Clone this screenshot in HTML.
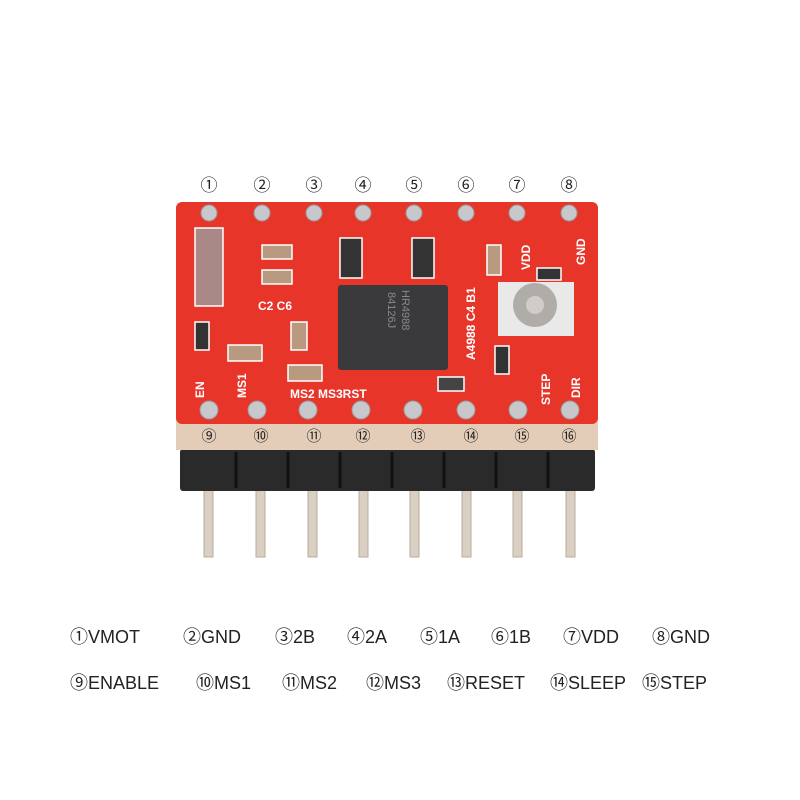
<!DOCTYPE html>
<html><head><style>
html,body{margin:0;padding:0;background:#fff;}
svg{display:block}
.t{font-family:"Liberation Sans","Noto Sans CJK JP",sans-serif;}
</style></head><body>
<svg width="800" height="800" viewBox="0 0 800 800" xmlns="http://www.w3.org/2000/svg">
<g class="t" font-size="17" fill="#222" text-anchor="middle">
<text x="209" y="191">①</text><text x="262" y="191">②</text><text x="314" y="191">③</text><text x="363" y="191">④</text>
<text x="414" y="191">⑤</text><text x="466" y="191">⑥</text><text x="517" y="191">⑦</text><text x="569" y="191">⑧</text>
</g>
<g fill="#d9cfc2" stroke="#b8ab9a" stroke-width="1">
<rect x="204" y="485" width="9" height="72"/><rect x="256" y="485" width="9" height="72"/><rect x="308" y="485" width="9" height="72"/><rect x="359" y="485" width="9" height="72"/>
<rect x="410" y="485" width="9" height="72"/><rect x="462" y="485" width="9" height="72"/><rect x="513" y="485" width="9" height="72"/><rect x="566" y="485" width="9" height="72"/>
</g>
<rect x="180" y="449" width="415" height="42" rx="3" fill="#2a2a2a"/>
<g stroke="#111" stroke-width="3">
<line x1="236" y1="452" x2="236" y2="488"/><line x1="288" y1="452" x2="288" y2="488"/><line x1="340" y1="452" x2="340" y2="488"/><line x1="392" y1="452" x2="392" y2="488"/>
<line x1="444" y1="452" x2="444" y2="488"/><line x1="496" y1="452" x2="496" y2="488"/><line x1="548" y1="452" x2="548" y2="488"/>
</g>
<rect x="176" y="418" width="422" height="32" fill="#e3cdb8"/>
<rect x="176" y="202" width="422" height="222" rx="6" fill="#e8352a"/>
<rect x="338" y="285" width="110" height="85" rx="3" fill="#3a3a3c"/>
<g class="t" fill="#888" font-size="11" transform="rotate(90 400 320)"><text x="370" y="318">HR4988</text><text x="372" y="332">84126J</text></g>
<g fill="#b89a80" stroke="#fff" stroke-width="1.5">
<rect x="195" y="228" width="28" height="78" fill="#a88"/>
<rect x="262" y="245" width="30" height="14"/><rect x="262" y="270" width="30" height="14"/>
<rect x="228" y="345" width="34" height="16"/><rect x="291" y="322" width="16" height="28"/>
<rect x="288" y="365" width="34" height="16"/><rect x="487" y="245" width="14" height="30"/>
</g>
<g fill="#333" stroke="#fff" stroke-width="1.5">
<rect x="340" y="238" width="22" height="40"/><rect x="412" y="238" width="22" height="40"/>
<rect x="195" y="322" width="14" height="28"/><rect x="495" y="346" width="14" height="28"/>
<rect x="438" y="377" width="26" height="14" fill="#444"/><rect x="537" y="268" width="24" height="12"/>
</g>
<rect x="498" y="282" width="76" height="54" fill="#e9e9ea"/>
<circle cx="535" cy="305" r="22" fill="#b0aca8"/><circle cx="535" cy="305" r="9" fill="#d0ccc8"/>
<g class="t" fill="#fff" font-size="12" font-weight="bold">
<text x="258" y="310">C2 C6</text><text x="290" y="398">MS2 MS3RST</text>
<text transform="translate(204 398) rotate(-90)">EN</text><text transform="translate(246 398) rotate(-90)">MS1</text>
<text transform="translate(550 405) rotate(-90)">STEP</text><text transform="translate(580 398) rotate(-90)">DIR</text>
<text transform="translate(475 360) rotate(-90)">A4988 C4 B1</text><text transform="translate(530 270) rotate(-90)">VDD</text>
<text transform="translate(585 265) rotate(-90)">GND</text>
</g>
<g fill="#c8c8cc" stroke="#999" stroke-width="1">
<circle cx="209" cy="213" r="8"/><circle cx="262" cy="213" r="8"/><circle cx="314" cy="213" r="8"/><circle cx="363" cy="213" r="8"/>
<circle cx="414" cy="213" r="8"/><circle cx="466" cy="213" r="8"/><circle cx="517" cy="213" r="8"/><circle cx="569" cy="213" r="8"/>
<circle cx="209" cy="410" r="9"/><circle cx="257" cy="410" r="9"/><circle cx="308" cy="410" r="9"/><circle cx="361" cy="410" r="9"/>
<circle cx="413" cy="410" r="9"/><circle cx="466" cy="410" r="9"/><circle cx="518" cy="410" r="9"/><circle cx="570" cy="410" r="9"/>
</g>
<g class="t" font-size="15" fill="#222" text-anchor="middle">
<text x="209" y="441">⑨</text><text x="261" y="441">⑩</text><text x="314" y="441">⑪</text><text x="363" y="441">⑫</text>
<text x="418" y="441">⑬</text><text x="471" y="441">⑭</text><text x="522" y="441">⑮</text><text x="569" y="441">⑯</text>
</g>
<g class="t" font-size="18" fill="#222">
<text x="70" y="643">①VMOT</text><text x="183" y="643">②GND</text><text x="275" y="643">③2B</text><text x="347" y="643">④2A</text>
<text x="420" y="643">⑤1A</text><text x="491" y="643">⑥1B</text><text x="563" y="643">⑦VDD</text><text x="652" y="643">⑧GND</text>
<text x="70" y="689">⑨ENABLE</text><text x="196" y="689">⑩MS1</text><text x="282" y="689">⑪MS2</text><text x="366" y="689">⑫MS3</text>
<text x="447" y="689">⑬RESET</text><text x="550" y="689">⑭SLEEP</text><text x="642" y="689">⑮STEP</text>
</g>
</svg>
</body></html>
